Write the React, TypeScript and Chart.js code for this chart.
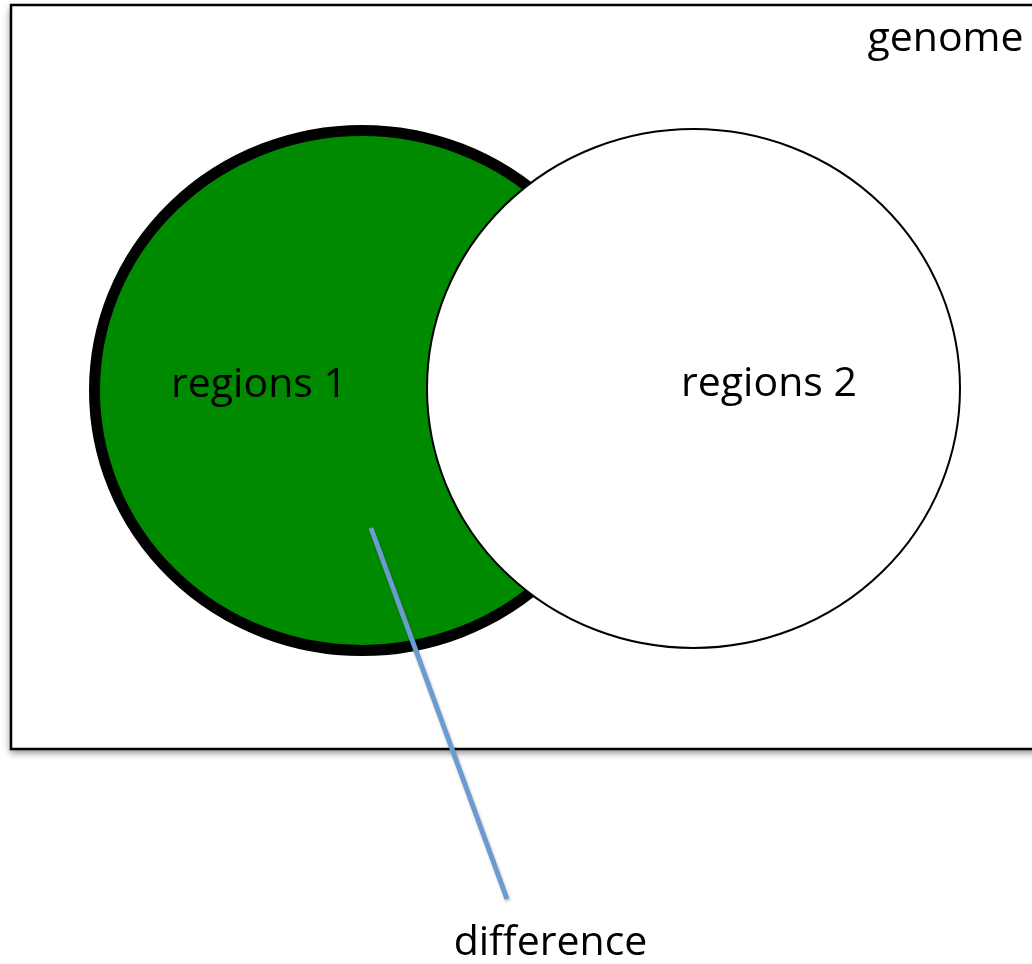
import React, { useEffect, useRef } from "react";
import { Chart, registerables } from "chart.js";

Chart.register(...registerables);

// Frame (genome) corners in data units
const frameX = [11, 1040];
const frameY = [5, 749];

// Region ellipses
const regionNames = ["regions 1", "regions 2"];
const regionCx = [362, 693.5];
const regionCy = [390.5, 388.5];
const regionRx = [267.5, 266.5];
const regionRy = [260, 259.5];

// Text labels
const labelTexts = ["genome", "regions 1", "regions 2", "difference"];
const labelX = [945.5, 259, 769, 550.5];
const labelY = [51, 397, 396, 955];

// Pointer line to "difference"
const pointerX = [371, 507];
const pointerY = [528, 899];

const W = 1032;
const H = 964;

const regionStyles = [
  { fill: "#008a00", stroke: "#000000", width: 11 },
  { fill: "#ffffff", stroke: "#000000", width: 2 },
];

const vennPlugin = {
  id: "venn",
  beforeDatasetsDraw(chart: any) {
    const { ctx, scales } = chart;
    const xs = scales.x;
    const ys = scales.y;
    // frame with shadow
    const x0 = xs.getPixelForValue(frameX[0]);
    const x1 = xs.getPixelForValue(frameX[1]);
    const y0 = ys.getPixelForValue(frameY[0]);
    const y1 = ys.getPixelForValue(frameY[1]);
    ctx.save();
    ctx.shadowColor = "rgba(0,0,0,0.45)";
    ctx.shadowBlur = 7;
    ctx.shadowOffsetX = -1;
    ctx.shadowOffsetY = 4;
    ctx.fillStyle = "#ffffff";
    ctx.fillRect(x0, y0, x1 - x0, y1 - y0);
    ctx.restore();
    ctx.save();
    ctx.strokeStyle = "#000000";
    ctx.lineWidth = 2.5;
    ctx.strokeRect(x0, y0, x1 - x0, y1 - y0);
    ctx.restore();

    // ellipses
    regionNames.forEach((_, i) => {
      const cx = xs.getPixelForValue(regionCx[i]);
      const cy = ys.getPixelForValue(regionCy[i]);
      const rx = Math.abs(xs.getPixelForValue(regionCx[i] + regionRx[i]) - cx);
      const ry = Math.abs(ys.getPixelForValue(regionCy[i] + regionRy[i]) - cy);
      const st = regionStyles[i];
      ctx.save();
      ctx.beginPath();
      ctx.ellipse(cx, cy, rx, ry, 0, 0, Math.PI * 2);
      ctx.fillStyle = st.fill;
      ctx.fill();
      ctx.lineWidth = st.width;
      ctx.strokeStyle = st.stroke;
      ctx.stroke();
      ctx.restore();
    });
  },
  beforeDatasetDraw(chart: any) {
    const ctx = chart.ctx;
    ctx.save();
    ctx.shadowColor = "rgba(0,0,0,0.25)";
    ctx.shadowBlur = 3;
    ctx.shadowOffsetX = 1;
    ctx.shadowOffsetY = 2;
  },
  afterDatasetDraw(chart: any) {
    chart.ctx.restore();
  },
  afterDatasetsDraw(chart: any) {
    const { ctx, scales } = chart;
    ctx.save();
    ctx.fillStyle = "#000000";
    ctx.font = '41px "Open Sans"';
    ctx.textAlign = "center";
    ctx.textBaseline = "alphabetic";
    labelTexts.forEach((t, i) => {
      ctx.fillText(t, scales.x.getPixelForValue(labelX[i]), scales.y.getPixelForValue(labelY[i]));
    });
    ctx.restore();
  },
};

export default function App() {
  const ref = useRef<HTMLCanvasElement | null>(null);
  useEffect(() => {
    if (!ref.current) return;
    const chart = new Chart(ref.current, {
      type: "scatter",
      data: {
        datasets: [
          {
            label: "difference pointer",
            data: pointerX.map((x, i) => ({ x, y: pointerY[i] })),
            showLine: true,
            borderColor: "#6a9bd1",
            borderWidth: 5,
            pointRadius: 0,
            borderCapStyle: "butt",
            clip: false,
          } as any,
        ],
      },
      options: {
        animation: false,
        responsive: false,
        devicePixelRatio: 1,
        events: [],
        layout: { padding: 0 },
        plugins: { legend: { display: false }, tooltip: { enabled: false } },
        scales: {
          x: { type: "linear", min: 0, max: W, display: false },
          y: { type: "linear", min: 0, max: H, reverse: true, display: false },
        },
      },
      plugins: [vennPlugin],
    });
    return () => chart.destroy();
  }, []);
  return (
    <div style={{ position: "fixed", left: 0, top: 0, width: W, height: H, background: "#ffffff" }}>
      <canvas ref={ref} width={W} height={H} style={{ display: "block", width: W, height: H }} />
    </div>
  );
}
